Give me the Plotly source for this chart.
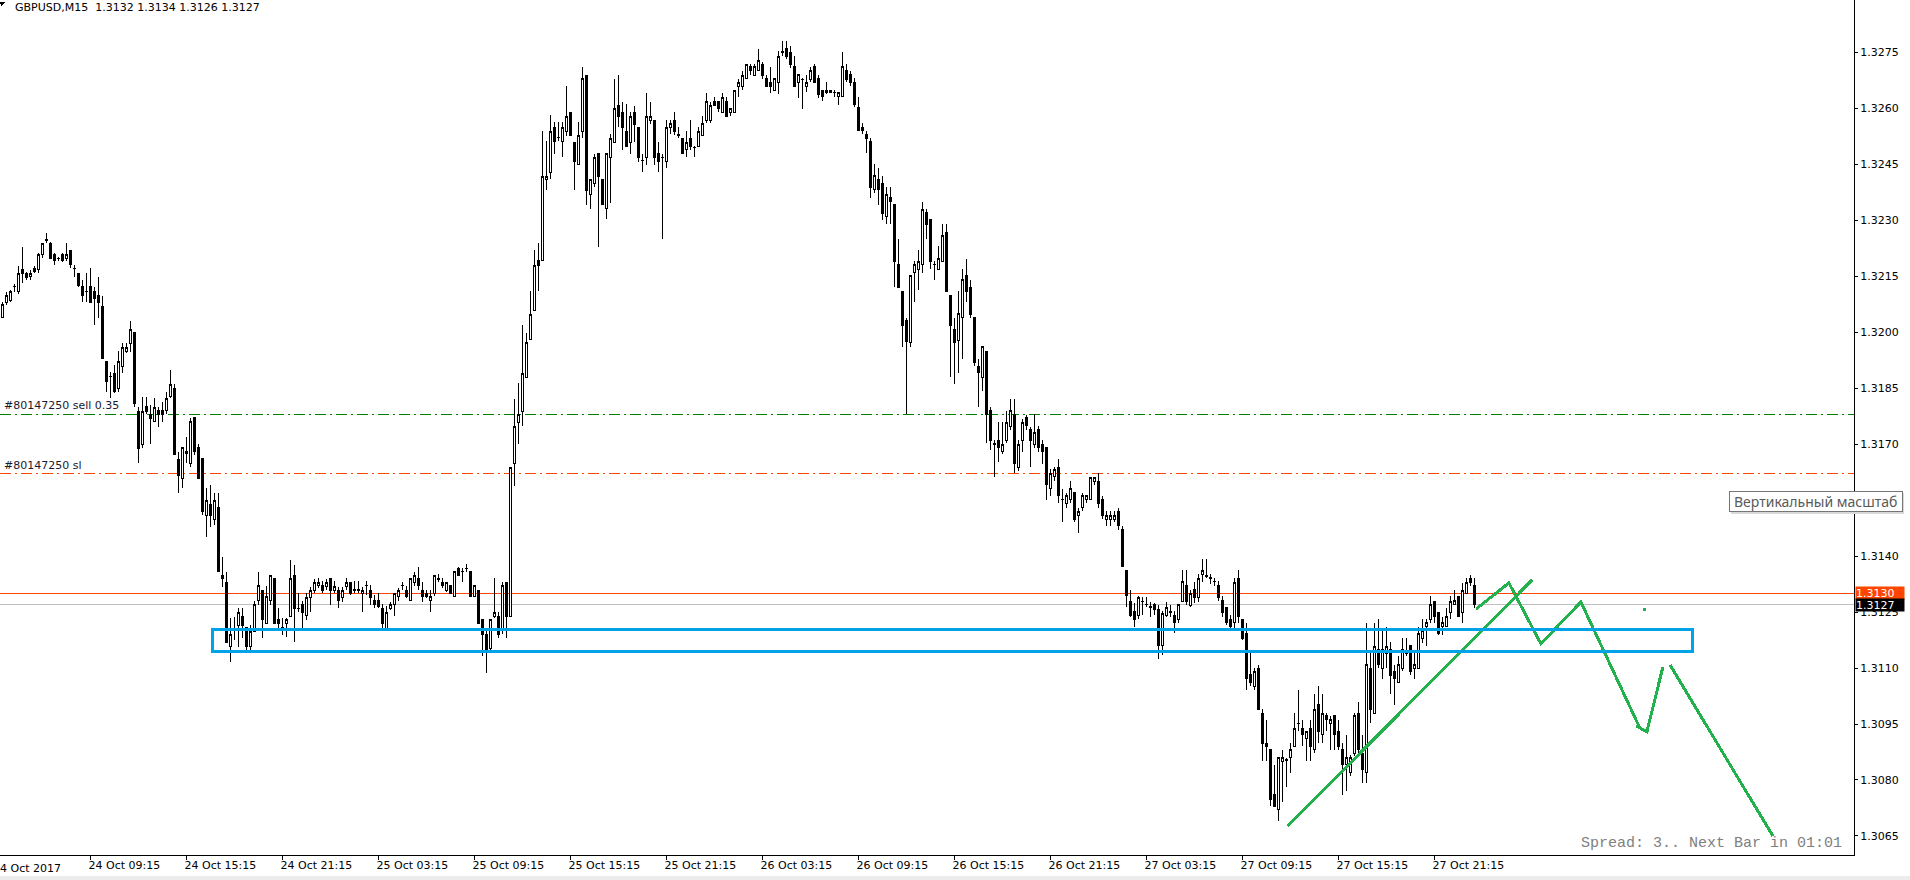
import plotly.graph_objects as go

# ---------------- data (GBPUSD M15, bar index 0 = 24 Oct 03:45) ----------------
opens = [
 1.32039,1.32080,1.32086,1.32122,1.32108,1.32169,1.32158,1.32149,1.32171,1.32169,
 1.32208,1.32247,1.32238,1.32208,1.32198,1.32208,1.32198,1.32220,1.32171,1.32158,
 1.32122,1.32110,1.32122,1.32110,1.32099,1.32070,1.31921,1.31881,1.31890,1.31849,
 1.31909,1.31948,1.31970,1.31999,1.31787,1.31699,1.31800,1.31780,1.31760,1.31789,
 1.31789,1.31789,1.31827,1.31849,1.31659,1.31608,1.31680,1.31649,1.31771,1.31690,
 1.31662,1.31510,1.31539,1.31497,1.31530,1.31349,1.31330,1.31157,1.31202,1.31215,
 1.31238,1.31209,1.31157,1.31198,1.31280,1.31309,1.31220,1.31280,1.31340,1.31231,
 1.31209,1.31220,1.31238,1.31349,1.31260,1.31269,1.31240,1.31289,1.31309,1.31321,
 1.31321,1.31318,1.31340,1.31309,1.31309,1.31289,1.31318,1.31330,1.31309,1.31310,
 1.31300,1.31321,1.31309,1.31280,1.31280,1.31260,1.31206,1.31260,1.31269,1.31291,
 1.31320,1.31309,1.31280,1.31330,1.31341,1.31309,1.31301,1.31280,1.31301,1.31338,
 1.31330,1.31309,1.31320,1.31291,1.31368,1.31359,1.31368,1.31359,1.31291,1.31309,
 1.31230,1.31190,1.31153,1.31239,1.31239,1.31201,1.31330,1.31239,1.31648,1.31757,
 1.31788,1.31879,1.31979,1.32059,1.32191,1.32191,1.32410,1.32428,1.32549,1.32521,
 1.32511,1.32538,1.32589,1.32509,1.32449,1.32538,1.32689,1.32369,1.32399,1.32478,
 1.32410,1.32331,1.32468,1.32509,1.32607,1.32589,1.32538,1.32509,1.32589,1.32549,
 1.32459,1.32468,1.32568,1.32568,1.32478,1.32468,1.32457,1.32549,1.32568,1.32528,
 1.32519,1.32489,1.32519,1.32495,1.32498,1.32528,1.32568,1.32568,1.32618,1.32618,
 1.32589,1.32618,1.32589,1.32589,1.32659,1.32659,1.32679,1.32711,1.32689,1.32700,
 1.32718,1.32679,1.32670,1.32648,1.32669,1.32750,1.32760,1.32750,1.32711,1.32669,
 1.32677,1.32659,1.32677,1.32711,1.32680,1.32648,1.32641,1.32641,1.32641,1.32631,
 1.32631,1.32701,1.32690,1.32669,1.32602,1.32549,1.32529,1.32510,1.32381,1.32409,
 1.32398,1.32310,1.32360,1.32341,1.32180,1.32110,1.32031,1.31971,1.32159,1.32169,
 1.32180,1.32320,1.32302,1.32180,1.32169,1.32190,1.32268,1.32099,1.32008,1.31978,
 1.32039,1.32151,1.32120,1.32039,1.31909,1.31879,1.31949,1.31789,1.31700,1.31711,
 1.31679,1.31711,1.31747,1.31780,1.31638,1.31711,1.31770,1.31739,1.31700,1.31739,
 1.31700,1.31690,1.31580,1.31612,1.31638,1.31551,1.31541,1.31551,1.31570,1.31510,
 1.31530,1.31551,1.31551,1.31601,1.31601,1.31551,1.31499,1.31499,1.31499,1.31520,
 1.31471,1.31362,1.31278,1.31252,1.31242,1.31278,1.31270,1.31263,1.31270,1.31257,
 1.31160,1.31242,1.31250,1.31242,1.31231,1.31278,1.31320,1.31268,1.31310,1.31289,
 1.31351,1.31346,1.31341,1.31332,1.31321,1.31281,1.31261,1.31231,1.31221,1.31341,
 1.31231,1.31192,1.31082,1.31051,1.31100,1.30979,1.30899,1.30881,1.30761,1.30720,
 1.30850,1.30853,1.30859,1.30890,1.30951,1.30939,1.30910,1.30939,1.30881,1.31002,
 1.30921,1.30972,1.30951,1.30972,1.30930,1.30881,1.30841,1.30820,1.30870,1.30979,
 1.30870,1.30820,1.31100,1.30979,1.31149,1.31100,1.31140,1.31149,1.31091,1.31060,
 1.31100,1.31140,1.31160,1.31100,1.31100,1.31180,1.31210,1.31231,1.31279,1.31249,
 1.31210,1.31210,1.31249,1.31270,1.31292,1.31249,1.31301,1.31341,1.31320,
]
highs = [
 1.32080,1.32108,1.32113,1.32128,1.32178,1.32229,1.32162,1.32166,1.32178,1.32211,
 1.32238,1.32267,1.32242,1.32211,1.32202,1.32211,1.32238,1.32220,1.32180,1.32158,
 1.32140,1.32158,1.32171,1.32122,1.32149,1.32097,1.31921,1.31894,1.31912,1.31949,
 1.31970,1.31970,1.32030,1.31999,1.31800,1.31827,1.31827,1.31805,1.31823,1.31800,
 1.31814,1.31840,1.31899,1.31860,1.31680,1.31690,1.31720,1.31771,1.31771,1.31699,
 1.31662,1.31582,1.31590,1.31568,1.31568,1.31398,1.31358,1.31233,1.31238,1.31260,
 1.31260,1.31209,1.31215,1.31280,1.31358,1.31309,1.31321,1.31349,1.31340,1.31260,
 1.31233,1.31233,1.31390,1.31376,1.31300,1.31280,1.31300,1.31318,1.31339,1.31340,
 1.31332,1.31339,1.31340,1.31332,1.31318,1.31318,1.31340,1.31330,1.31332,1.31332,
 1.31318,1.31332,1.31323,1.31296,1.31301,1.31271,1.31266,1.31277,1.31301,1.31314,
 1.31330,1.31320,1.31341,1.31357,1.31370,1.31330,1.31309,1.31309,1.31349,1.31352,
 1.31341,1.31330,1.31320,1.31359,1.31370,1.31368,1.31379,1.31359,1.31320,1.31309,
 1.31230,1.31206,1.31230,1.31341,1.31250,1.31330,1.31330,1.31637,1.31820,1.31863,
 1.32019,1.31997,1.32110,1.32220,1.32240,1.32538,1.32511,1.32582,1.32562,1.32562,
 1.32562,1.32659,1.32589,1.32509,1.32562,1.32711,1.32689,1.32410,1.32478,1.32478,
 1.32410,1.32478,1.32530,1.32679,1.32689,1.32618,1.32611,1.32589,1.32607,1.32549,
 1.32478,1.32640,1.32618,1.32568,1.32509,1.32478,1.32568,1.32568,1.32589,1.32549,
 1.32519,1.32538,1.32568,1.32498,1.32549,1.32578,1.32640,1.32618,1.32629,1.32618,
 1.32640,1.32629,1.32600,1.32648,1.32679,1.32700,1.32718,1.32718,1.32718,1.32760,
 1.32725,1.32689,1.32711,1.32679,1.32753,1.32781,1.32781,1.32766,1.32739,1.32690,
 1.32680,1.32690,1.32711,1.32718,1.32690,1.32648,1.32669,1.32648,1.32648,1.32641,
 1.32750,1.32718,1.32701,1.32680,1.32631,1.32560,1.32539,1.32520,1.32451,1.32440,
 1.32419,1.32388,1.32388,1.32341,1.32249,1.32110,1.32039,1.32151,1.32190,1.32221,
 1.32349,1.32329,1.32302,1.32190,1.32232,1.32289,1.32289,1.32099,1.32039,1.32110,
 1.32169,1.32197,1.32141,1.32039,1.31929,1.31961,1.31949,1.31799,1.31711,1.31758,
 1.31758,1.31789,1.31820,1.31820,1.31711,1.31768,1.31778,1.31747,1.31780,1.31749,
 1.31711,1.31690,1.31633,1.31638,1.31659,1.31580,1.31570,1.31601,1.31570,1.31530,
 1.31570,1.31562,1.31610,1.31612,1.31622,1.31562,1.31520,1.31520,1.31520,1.31530,
 1.31481,1.31362,1.31310,1.31273,1.31294,1.31289,1.31289,1.31278,1.31273,1.31268,
 1.31252,1.31278,1.31268,1.31252,1.31270,1.31362,1.31362,1.31310,1.31330,1.31351,
 1.31391,1.31391,1.31351,1.31341,1.31332,1.31292,1.31261,1.31243,1.31341,1.31362,
 1.31231,1.31221,1.31140,1.31100,1.31109,1.30990,1.30962,1.30881,1.30841,1.30859,
 1.30881,1.30859,1.30899,1.30979,1.31042,1.30960,1.30930,1.30962,1.31031,1.31051,
 1.31031,1.30979,1.30972,1.30972,1.30960,1.30899,1.30921,1.30868,1.30979,1.31008,
 1.30921,1.31221,1.31140,1.31221,1.31231,1.31203,1.31210,1.31171,1.31109,1.31131,
 1.31180,1.31180,1.31160,1.31149,1.31210,1.31231,1.31231,1.31292,1.31279,1.31249,
 1.31238,1.31261,1.31292,1.31310,1.31292,1.31329,1.31341,1.31350,1.31340,
]
lows = [
 1.32039,1.32074,1.32080,1.32108,1.32101,1.32131,1.32140,1.32140,1.32158,1.32158,
 1.32198,1.32238,1.32196,1.32180,1.32191,1.32189,1.32191,1.32171,1.32149,1.32122,
 1.32080,1.32080,1.32080,1.32019,1.32039,1.31930,1.31840,1.31823,1.31836,1.31840,
 1.31890,1.31943,1.31948,1.31800,1.31649,1.31689,1.31782,1.31699,1.31760,1.31747,
 1.31760,1.31780,1.31823,1.31671,1.31568,1.31582,1.31649,1.31640,1.31671,1.31607,
 1.31510,1.31452,1.31479,1.31483,1.31358,1.31318,1.31168,1.31117,1.31175,1.31157,
 1.31180,1.31148,1.31144,1.31198,1.31269,1.31180,1.31220,1.31269,1.31220,1.31198,
 1.31189,1.31184,1.31238,1.31171,1.31249,1.31206,1.31229,1.31251,1.31300,1.31314,
 1.31300,1.31309,1.31269,1.31300,1.31260,1.31278,1.31309,1.31296,1.31300,1.31300,
 1.31249,1.31296,1.31269,1.31260,1.31260,1.31206,1.31198,1.31255,1.31239,1.31280,
 1.31309,1.31288,1.31280,1.31320,1.31309,1.31277,1.31288,1.31250,1.31293,1.31330,
 1.31314,1.31303,1.31301,1.31291,1.31346,1.31330,1.31357,1.31291,1.31291,1.31219,
 1.31131,1.31088,1.31142,1.31233,1.31180,1.31190,1.31180,1.31239,1.31589,1.31699,
 1.31748,1.31879,1.31979,1.32059,1.32110,1.32191,1.32380,1.32410,1.32478,1.32511,
 1.32468,1.32525,1.32528,1.32380,1.32449,1.32519,1.32342,1.32331,1.32388,1.32229,
 1.32342,1.32304,1.32347,1.32509,1.32549,1.32487,1.32498,1.32478,1.32509,1.32457,
 1.32428,1.32449,1.32557,1.32449,1.32428,1.32250,1.32439,1.32530,1.32528,1.32519,
 1.32478,1.32468,1.32487,1.32468,1.32498,1.32528,1.32560,1.32560,1.32607,1.32589,
 1.32589,1.32578,1.32578,1.32589,1.32629,1.32648,1.32679,1.32689,1.32689,1.32700,
 1.32679,1.32659,1.32640,1.32648,1.32638,1.32739,1.32732,1.32708,1.32659,1.32628,
 1.32598,1.32643,1.32669,1.32669,1.32628,1.32620,1.32638,1.32641,1.32631,1.32610,
 1.32631,1.32669,1.32659,1.32602,1.32539,1.32531,1.32479,1.32360,1.32372,1.32341,
 1.32300,1.32289,1.32291,1.32120,1.32120,1.31961,1.31780,1.31961,1.32081,1.32112,
 1.32159,1.32249,1.32169,1.32141,1.32169,1.32190,1.32110,1.31879,1.31860,1.31891,
 1.31929,1.32081,1.32039,1.31909,1.31799,1.31841,1.31703,1.31683,1.31612,1.31653,
 1.31674,1.31703,1.31737,1.31622,1.31627,1.31679,1.31737,1.31638,1.31690,1.31679,
 1.31648,1.31549,1.31560,1.31601,1.31541,1.31492,1.31530,1.31541,1.31492,1.31461,
 1.31520,1.31541,1.31551,1.31591,1.31530,1.31499,1.31481,1.31481,1.31492,1.31471,
 1.31372,1.31263,1.31237,1.31211,1.31231,1.31242,1.31263,1.31237,1.31242,1.31125,
 1.31135,1.31237,1.31237,1.31193,1.31221,1.31278,1.31268,1.31263,1.31273,1.31278,
 1.31330,1.31341,1.31325,1.31320,1.31279,1.31238,1.31216,1.31198,1.31198,1.31221,
 1.31176,1.31042,1.31051,1.31042,1.30990,1.30850,1.30850,1.30729,1.30729,1.30689,
 1.30740,1.30781,1.30820,1.30890,1.30930,1.30890,1.30850,1.30850,1.30872,1.30899,
 1.30899,1.30930,1.30881,1.30881,1.30881,1.30761,1.30770,1.30810,1.30863,1.30870,
 1.30792,1.30792,1.30953,1.30979,1.31100,1.31071,1.31100,1.31031,1.31002,1.31060,
 1.31091,1.31131,1.31082,1.31071,1.31100,1.31167,1.31160,1.31221,1.31221,1.31189,
 1.31189,1.31210,1.31231,1.31270,1.31238,1.31221,1.31301,1.31321,1.31260,
]
closes = [
 1.32073,1.32099,1.32108,1.32123,1.32158,1.32158,1.32147,1.32158,1.32162,1.32208,
 1.32238,1.32246,1.32198,1.32191,1.32197,1.32191,1.32208,1.32180,1.32170,1.32126,
 1.32099,1.32109,1.32080,1.32089,1.32080,1.31930,1.31867,1.31880,1.31840,1.31921,
 1.31958,1.31958,1.32007,1.31809,1.31689,1.31787,1.31787,1.31769,1.31798,1.31780,
 1.31780,1.31821,1.31860,1.31671,1.31617,1.31690,1.31675,1.31760,1.31680,1.31608,
 1.31519,1.31550,1.31510,1.31550,1.31358,1.31340,1.31168,1.31190,1.31201,1.31249,
 1.31215,1.31157,1.31198,1.31269,1.31321,1.31229,1.31291,1.31349,1.31220,1.31220,
 1.31208,1.31231,1.31340,1.31260,1.31259,1.31249,1.31289,1.31309,1.31330,1.31330,
 1.31309,1.31330,1.31309,1.31318,1.31280,1.31309,1.31330,1.31300,1.31310,1.31309,
 1.31309,1.31322,1.31289,1.31269,1.31266,1.31219,1.31250,1.31269,1.31301,1.31309,
 1.31321,1.31291,1.31341,1.31349,1.31320,1.31291,1.31291,1.31291,1.31349,1.31339,
 1.31320,1.31330,1.31301,1.31359,1.31349,1.31360,1.31367,1.31291,1.31320,1.31219,
 1.31190,1.31142,1.31230,1.31250,1.31190,1.31320,1.31239,1.31637,1.31748,1.31780,
 1.31890,1.31971,1.32048,1.32178,1.32178,1.32417,1.32417,1.32538,1.32511,1.32522,
 1.32549,1.32578,1.32528,1.32457,1.32528,1.32679,1.32380,1.32410,1.32468,1.32417,
 1.32342,1.32478,1.32519,1.32600,1.32578,1.32549,1.32498,1.32578,1.32557,1.32468,
 1.32460,1.32578,1.32578,1.32468,1.32457,1.32467,1.32549,1.32560,1.32538,1.32529,
 1.32478,1.32509,1.32498,1.32496,1.32538,1.32560,1.32618,1.32607,1.32608,1.32600,
 1.32629,1.32578,1.32600,1.32648,1.32670,1.32689,1.32718,1.32700,1.32711,1.32729,
 1.32689,1.32659,1.32659,1.32679,1.32739,1.32751,1.32739,1.32718,1.32659,1.32690,
 1.32678,1.32669,1.32701,1.32669,1.32638,1.32631,1.32648,1.32648,1.32642,1.32641,
 1.32711,1.32677,1.32669,1.32610,1.32539,1.32539,1.32520,1.32388,1.32419,1.32381,
 1.32318,1.32370,1.32349,1.32190,1.32120,1.32018,1.31976,1.32151,1.32180,1.32190,
 1.32329,1.32289,1.32190,1.32181,1.32197,1.32260,1.32110,1.32018,1.31971,1.32049,
 1.32141,1.32110,1.32047,1.31919,1.31891,1.31961,1.31780,1.31711,1.31701,1.31690,
 1.31700,1.31758,1.31789,1.31648,1.31700,1.31758,1.31749,1.31711,1.31731,1.31690,
 1.31679,1.31591,1.31622,1.31633,1.31562,1.31552,1.31562,1.31580,1.31499,1.31520,
 1.31562,1.31562,1.31610,1.31610,1.31541,1.31510,1.31510,1.31510,1.31510,1.31481,
 1.31372,1.31294,1.31242,1.31231,1.31289,1.31279,1.31271,1.31264,1.31257,1.31160,
 1.31247,1.31263,1.31251,1.31221,1.31270,1.31332,1.31278,1.31299,1.31289,1.31341,
 1.31362,1.31347,1.31342,1.31333,1.31290,1.31249,1.31221,1.31210,1.31329,1.31238,
 1.31180,1.31071,1.31060,1.31091,1.30990,1.30899,1.30890,1.30749,1.30729,1.30859,
 1.30859,1.30854,1.30881,1.30939,1.30952,1.30921,1.30930,1.30890,1.30990,1.30930,
 1.30979,1.30962,1.30962,1.30921,1.30890,1.30841,1.30859,1.30859,1.30972,1.30881,
 1.30829,1.31109,1.30990,1.31158,1.31109,1.31149,1.31158,1.31079,1.31071,1.31109,
 1.31149,1.31141,1.31091,1.31109,1.31192,1.31201,1.31221,1.31270,1.31238,1.31192,
 1.31221,1.31238,1.31279,1.31281,1.31238,1.31308,1.31329,1.31329,1.31270,
]
bars = list(range(len(closes)))

# time axis labels (bar index -> label)
tick_bars = [22, 46, 70, 94, 118, 142, 166, 190, 214, 238, 262, 286, 310, 334, 358]
tick_text = ["24 Oct 09:15", "24 Oct 15:15", "24 Oct 21:15", "25 Oct 03:15", "25 Oct 09:15",
             "25 Oct 15:15", "25 Oct 21:15", "26 Oct 03:15", "26 Oct 09:15", "26 Oct 15:15",
             "26 Oct 21:15", "27 Oct 03:15", "27 Oct 09:15", "27 Oct 15:15", "27 Oct 21:15"]
price_ticks = [1.3065, 1.3080, 1.3095, 1.3110, 1.3125, 1.3140, 1.3155, 1.3170, 1.3185,
               1.3200, 1.3215, 1.3230, 1.3245, 1.3260, 1.3275, 1.3290]

# order levels
sell_level = 1.3178
sl_level = 1.3162
ask_level = 1.3130
bid_level = 1.3127

# drawn objects
zone_bars = [52.5, 422.6]
zone_prices = [1.31144, 1.31204]
trend_x = [321.3, 382.4]
trend_y = [1.30677, 1.31336]
zig_x = [368.4, 376.6, 384.6, 394.6, 409.3]
zig_y = [1.31258, 1.31328, 1.31165, 1.31277, 1.30940]
hook_x = [408.4, 411.1, 415.1]
hook_y = [1.30945, 1.30929, 1.31103]
down_x = [416.9, 442.6]
down_y = [1.31108, 1.30650]
dash_x = [410.0, 410.8]
dash_y = [1.31258, 1.31258]

FONT = "DejaVu Sans"
GREEN_DRAW = "#22b14c"

fig = go.Figure()
fig.add_trace(go.Candlestick(
    x=bars, open=opens, high=highs, low=lows, close=closes,
    increasing=dict(line=dict(color="black", width=1), fillcolor="white"),
    decreasing=dict(line=dict(color="black", width=1), fillcolor="black"),
    whiskerwidth=0, showlegend=False, hoverinfo="skip",
))
for xs, ys in [(trend_x, trend_y), (zig_x, zig_y), (hook_x, hook_y), (down_x, down_y), (dash_x, dash_y)]:
    fig.add_trace(go.Scatter(x=xs, y=ys, mode="lines", line=dict(color=GREEN_DRAW, width=3),
                             showlegend=False, hoverinfo="skip"))

shapes = [
    dict(type="line", xref="paper", yref="y", x0=0, x1=1, y0=sell_level, y1=sell_level,
         line=dict(color="#008000", width=1, dash="11px,4px,2px,4px"), layer="below"),
    dict(type="line", xref="paper", yref="y", x0=0, x1=1, y0=sl_level, y1=sl_level,
         line=dict(color="#ff4500", width=1, dash="11px,4px,2px,4px"), layer="below"),
    dict(type="line", xref="paper", yref="y", x0=0, x1=1, y0=ask_level, y1=ask_level,
         line=dict(color="#ff4500", width=1), layer="below"),
    dict(type="line", xref="paper", yref="y", x0=0, x1=1, y0=bid_level, y1=bid_level,
         line=dict(color="#c0c0c0", width=1), layer="below"),
    dict(type="rect", xref="x", yref="y", x0=zone_bars[0], x1=zone_bars[1],
         y0=zone_prices[0], y1=zone_prices[1], line=dict(color="#00a2e8", width=3),
         fillcolor="rgba(0,0,0,0)", layer="above"),
    # tooltip shadow + box
    dict(type="rect", xref="paper", yref="paper", x0=0.9337, x1=1.0270, y0=0.3988, y1=0.4234,
         line=dict(width=0), fillcolor="#d9d9d9", layer="above"),
    dict(type="rect", xref="paper", yref="paper", x0=0.9326, x1=1.0259, y0=0.4012, y1=0.4257,
         line=dict(color="#767676", width=1), fillcolor="#ffffff", layer="above"),
    # corner triangle
    dict(type="path", xref="paper", yref="paper",
         path="M 0 0.9977 L 0.0033 0.9977 L 0.0005 0.9930 Z",
         fillcolor="black", line=dict(width=0), layer="above"),
    # bottom window strip
    dict(type="rect", xref="paper", yref="paper", x0=-0.01, x1=1.04, y0=-0.0300, y1=-0.0245,
         fillcolor="#ececec", line=dict(width=0), layer="above"),
]

annotations = [
    dict(text="GBPUSD,M15\u00a0\u00a01.3132 1.3134 1.3126 1.3127", xref="paper", yref="paper",
         x=0.0068, y=1.0, xanchor="left", yanchor="top", yshift=1, showarrow=False,
         font=dict(family=FONT, size=11, color="black")),
    dict(text="#80147250 sell 0.35", xref="paper", yref="y", x=0.0013, y=sell_level,
         xanchor="left", yanchor="bottom", showarrow=False,
         font=dict(family=FONT, size=11, color="#1a1a2e")),
    dict(text="#80147250 sl", xref="paper", yref="y", x=0.0013, y=sl_level,
         xanchor="left", yanchor="bottom", showarrow=False,
         font=dict(family=FONT, size=11, color="#1a1a2e")),
    dict(text="1.3130", xref="paper", yref="y", x=1, y=ask_level, xanchor="left", yanchor="middle",
         xshift=1, showarrow=False, bgcolor="#ff4500", width=48, height=12, align="left",
         borderpad=0, font=dict(family=FONT, size=11, color="white")),
    dict(text="1.3127", xref="paper", yref="y", x=1, y=bid_level, xanchor="left", yanchor="middle",
         xshift=1, showarrow=False, bgcolor="black", width=48, height=12, align="left",
         borderpad=0, font=dict(family=FONT, size=11, color="white")),
    dict(text="Вертикальный масштаб", xref="paper", yref="paper", x=0.9792, y=0.4135,
         xanchor="center", yanchor="middle", showarrow=False,
         font=dict(family="Noto Sans", size=14, color="#5a5a5a")),
    dict(text="Spread: 3.. Next Bar in 01:01", xref="paper", yref="paper", x=0.9946, y=0.014,
         xanchor="right", yanchor="middle", showarrow=False,
         font=dict(family="Liberation Mono", size=15, color="#808080")),
    dict(text="24 Oct 2017", xref="paper", yref="paper", x=-0.005, y=0, xanchor="left",
         yanchor="top", yshift=-5, showarrow=False, font=dict(family=FONT, size=11, color="black")),
]

fig.update_layout(
    width=1910, height=880,
    margin=dict(l=0, r=56, t=0, b=25, pad=0),
    paper_bgcolor="white", plot_bgcolor="white",
    boxgap=0.5, boxgroupgap=0,
    shapes=shapes, annotations=annotations,
    showlegend=False,
    xaxis=dict(range=[-0.625, 462.875], showgrid=False, zeroline=False,
               showline=True, linecolor="black", linewidth=1,
               ticks="outside", ticklen=4, tickcolor="black",
               tickvals=tick_bars, ticktext=tick_text,
               ticklabelposition="outside right", ticklabelshift=-3,
               tickfont=dict(family=FONT, size=11, color="black"),
               rangeslider=dict(visible=False), fixedrange=True),
    yaxis=dict(range=[1.30599, 1.32890], side="right", showgrid=False, zeroline=False,
               showline=True, linecolor="black", linewidth=1,
               ticks="outside", ticklen=3, tickcolor="black",
               tickvals=price_ticks, ticktext=[f"{v:.4f}" for v in price_ticks],
               tickfont=dict(family=FONT, size=11, color="black"), fixedrange=True),
)

crisp = ("document.querySelectorAll('.main-svg path').forEach(function(p){"
         "p.style.shapeRendering='crispEdges';});")
fig.write_html("out.html", config={"displayModeBar": False}, post_script=crisp)
